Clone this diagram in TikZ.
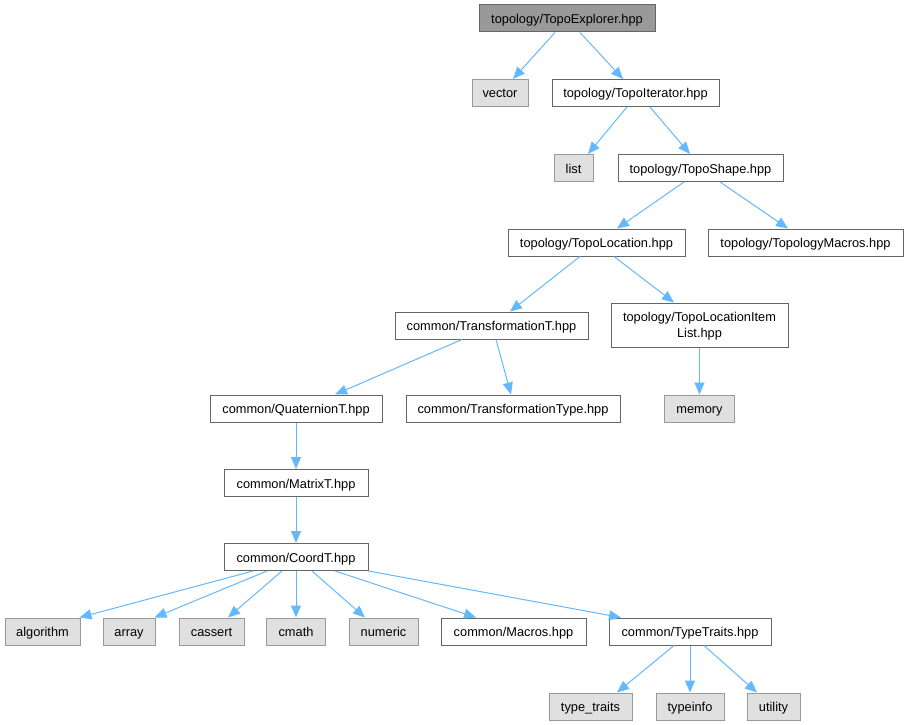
\documentclass[tikz,border=0pt]{standalone}
\usepackage{fontspec}
\setmainfont{Liberation Sans}
\usetikzlibrary{arrows.meta}
\definecolor{edgeblue}{HTML}{63B8FF}
\definecolor{rootfill}{HTML}{999999}
\definecolor{boxline}{HTML}{666666}
\definecolor{extfill}{HTML}{E0E0E0}
\definecolor{extline}{HTML}{999999}
\begin{document}
\begin{tikzpicture}[x=1pt,y=-1pt,
  every node/.style={font=\fontsize{12.8}{15.5}\selectfont, inner sep=0pt, minimum height=27pt, align=center},
  oneline/.style={text height=12pt, text depth=2pt},
  filebox/.style={oneline, draw=boxline, fill=white, line width=1pt},
  itembox/.style={draw=boxline, fill=white, line width=1pt, text height=26pt, text depth=2pt},
  rootbox/.style={oneline, draw=boxline, fill=rootfill, line width=1pt},
  extbox/.style={oneline, draw=extline, fill=extfill, line width=1pt},
  edge/.style={draw=edgeblue, line width=1pt, -{Triangle[length=12pt,width=10pt]}}]
\useasboundingbox (0,0) rectangle (906,725);
% nodes
\node[rootbox, minimum width=176pt] (root) at (567,18.5) {topology/TopoExplorer.hpp};
\node[extbox, minimum width=56pt] (vector) at (500,93) {vector};
\node[filebox, minimum width=167pt] (iter) at (635.5,93) {topology/TopoIterator.hpp};
\node[extbox, minimum width=39pt] (list) at (573.5,168) {list};
\node[filebox, minimum width=165pt] (shape) at (700.5,168) {topology/TopoShape.hpp};
\node[filebox, minimum width=177pt] (loc) at (596.5,242.5) {topology/TopoLocation.hpp};
\node[filebox, minimum width=195pt] (macros) at (805.5,242.5) {topology/TopologyMacros.hpp};
\node[filebox, minimum width=193pt] (trans) at (491.5,325.5) {common/TransformationT.hpp};
\node[itembox, minimum width=177pt, minimum height=44pt] (item) at (699.5,325) {topology/TopoLocationItem\\List.hpp};
\node[filebox, minimum width=172pt] (quat) at (296,408.5) {common/QuaternionT.hpp};
\node[filebox, minimum width=214pt] (ttype) at (513,408.5) {common/TransformationType.hpp};
\node[extbox, minimum width=70pt] (memory) at (699.5,408.5) {memory};
\node[filebox, minimum width=144pt] (matrix) at (296,483) {common/MatrixT.hpp};
\node[filebox, minimum width=144pt] (coord) at (296,557) {common/CoordT.hpp};
\node[extbox, minimum width=75pt] (algorithm) at (42.5,631.5) {algorithm};
\node[extbox, minimum width=52pt] (array) at (129,631.5) {array};
\node[extbox, minimum width=65pt] (cassert) at (211.5,631.5) {cassert};
\node[extbox, minimum width=59pt] (cmath) at (296,631.5) {cmath};
\node[extbox, minimum width=69pt] (numeric) at (383.5,631.5) {numeric};
\node[filebox, minimum width=145pt] (cmacros) at (513.5,631.5) {common/Macros.hpp};
\node[filebox, minimum width=162pt] (traits) at (690,631.5) {common/TypeTraits.hpp};
\node[extbox, minimum width=83pt] (typetraits) at (590.5,706.5) {type\_traits};
\node[extbox, minimum width=68pt] (typeinfo) at (690,706.5) {typeinfo};
\node[extbox, minimum width=53pt] (utility) at (773.5,706.5) {utility};
% edges
\draw[edge] ([xshift=-12pt]root.south) -- ([xshift=13pt]vector.north);
\draw[edge] ([xshift=13pt]root.south) -- ([xshift=-12.5pt]iter.north);
\draw[edge] ([xshift=-8.5pt]iter.south) -- ([xshift=14.5pt]list.north);
\draw[edge] ([xshift=14.5pt]iter.south) -- ([xshift=-10.5pt]shape.north);
\draw[edge] ([xshift=-16.5pt]shape.south) -- ([xshift=20.5pt]loc.north);
\draw[edge] ([xshift=19.5pt]shape.south) -- ([xshift=-17.5pt]macros.north);
\draw[edge] ([xshift=-16.5pt]loc.south) -- ([xshift=18.5pt]trans.north);
\draw[edge] ([xshift=17.5pt]loc.south) -- ([xshift=-25.5pt]item.north);
\draw[edge] ([xshift=-29.5pt]trans.south) -- ([xshift=39pt]quat.north);
\draw[edge] ([xshift=4.5pt]trans.south) -- ([xshift=-2pt]ttype.north);
\draw[edge] (item.south) -- (memory.north);
\draw[edge] (quat.south) -- (matrix.north);
\draw[edge] (matrix.south) -- (coord.north);
\draw[edge] ([xshift=-43pt]coord.south) -- ([xshift=-1pt]algorithm.north east);
\draw[edge] ([xshift=-29pt]coord.south) -- ([xshift=-1pt]array.north east);
\draw[edge] ([xshift=-14pt]coord.south) -- ([xshift=16.5pt]cassert.north);
\draw[edge] (coord.south) -- (cmath.north);
\draw[edge] ([xshift=16pt]coord.south) -- ([xshift=-18.5pt]numeric.north);
\draw[edge] ([xshift=39pt]coord.south) -- ([xshift=-37.5pt]cmacros.north);
\draw[edge] (coord.south east) -- ([xshift=-69pt]traits.north);
\draw[edge] ([xshift=-16pt]traits.south) -- ([xshift=26.5pt]typetraits.north);
\draw[edge] (traits.south) -- (typeinfo.north);
\draw[edge] ([xshift=14pt]traits.south) -- ([xshift=-16.5pt]utility.north);
\end{tikzpicture}
\end{document}
